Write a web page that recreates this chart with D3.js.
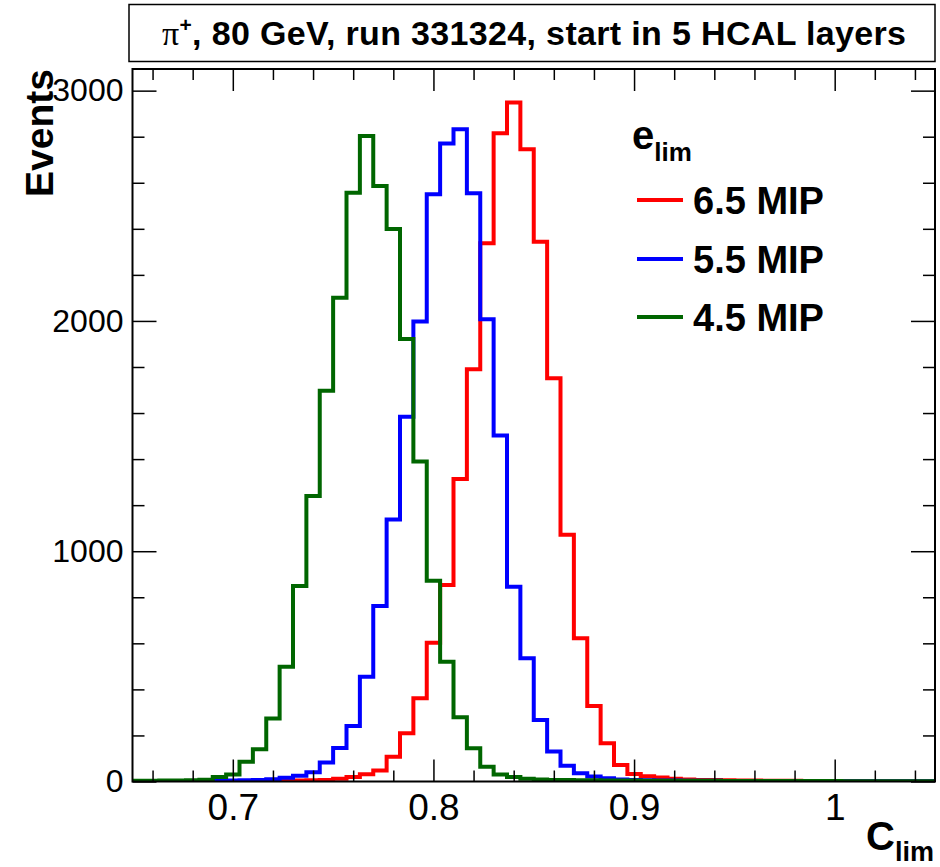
<!DOCTYPE html>
<html>
<head>
<meta charset="utf-8">
<script src="https://cdn.jsdelivr.net/npm/d3@7"></script>
<style>
  html, body { margin: 0; padding: 0; background: #fff; }
  svg { display: block; font-family: "Liberation Sans", Arial, Helvetica, sans-serif; }
</style>
</head>
<body>
<script>
// histogram binning (60 equal bins between 0.65 and 1.05)
const xMin = 0.65;
const xMax = 1.05;
const nBins = 60;

// bin contents
const counts65 = [
  0, 0, 1, 1, 1, 1, 1, 2, 2, 2,
  3, 3, 4, 5, 7, 12, 20, 32, 48, 108,
  209, 361, 603, 853, 1314, 1790, 2337, 2815, 2949, 2745,
  2344, 1751, 1071, 622, 328, 166, 72, 33, 23, 17,
  12, 9, 7, 6, 5, 4, 4, 3, 3, 3,
  2, 2, 2, 2, 2, 1, 1, 1, 1, 1,
];
const counts55 = [
  1, 1, 1, 2, 2, 2, 3, 4, 5, 7,
  10, 16, 25, 40, 83, 145, 241, 455, 762, 1138,
  1584, 1997, 2550, 2771, 2832, 2554, 2007, 1502, 846, 535,
  267, 130, 68, 36, 22, 14, 9, 7, 5, 4,
  4, 3, 3, 3, 2, 2, 2, 2, 2, 1,
  1, 1, 1, 1, 1, 1, 1, 1, 1, 1,
];
const counts45 = [
  3, 3, 4, 4, 5, 8, 20, 30, 86, 140,
  274, 498, 849, 1240, 1697, 2101, 2557, 2803, 2586, 2399,
  1921, 1390, 872, 520, 279, 144, 64, 30, 20, 12,
  9, 7, 6, 5, 5, 4, 4, 4, 3, 3,
  3, 3, 3, 3, 2, 2, 2, 2, 2, 2,
  2, 2, 2, 1, 1, 1, 1, 1, 1, 1,
];

const seriesNames = ["6.5 MIP", "5.5 MIP", "4.5 MIP"];
const seriesColors = ["#ff0000", "#0000ff", "#006600"];
const seriesCounts = [counts65, counts55, counts45];

const xMajorTicks = [0.7, 0.8, 0.9, 1.0];
const xTickLabels = ["0.7", "0.8", "0.9", "1"];
const yMajorTicks = [0, 1000, 2000, 3000];
const yMax = 3094;

const width = 940;
const height = 867;
const frameL = 132.5, frameR = 935, frameT = 69, frameB = 781.5;

const x = d3.scaleLinear().domain([xMin, xMax]).range([frameL, frameR]);
const y = d3.scaleLinear().domain([0, yMax]).range([frameB, frameT]);

const svg = d3.select("body").append("svg")
  .attr("width", width)
  .attr("height", height)
  .attr("viewBox", [0, 0, width, height]);

// minor tick positions
const xMinor = d3.range(0, 21).map((i) => +(xMin + 0.01 + i * 0.02).toFixed(3))
  .filter((v) => v < xMax && !xMajorTicks.some((m) => Math.abs(m - v) < 1e-6));
const yMinor = d3.range(200, yMax, 200).filter((v) => v % 1000 !== 0);

// title box
svg.append("rect")
  .attr("x", 129).attr("y", 4.5)
  .attr("width", 806).attr("height", 57)
  .attr("fill", "#fff").attr("stroke", "#000").attr("stroke-width", 1.5);

const title = svg.append("text")
  .attr("x", 162).attr("y", 45)
  .attr("font-size", 34).attr("font-weight", "bold")
  .attr("textLength", 744).attr("lengthAdjust", "spacing");
title.append("tspan").attr("font-family", "'Liberation Serif', serif").attr("font-weight", "normal").text("π");
title.append("tspan").attr("font-size", 21).attr("dy", -13).text("+");
title.append("tspan").attr("dy", 13).text(", 80 GeV, run 331324, start in 5 HCAL layers");

// histograms
const edges = d3.range(nBins + 1).map((i) => xMin + (i * (xMax - xMin)) / nBins);
const line = d3.line()
  .x((d) => x(d[0]))
  .y((d) => y(d[1]))
  .curve(d3.curveStepAfter);

svg.append("clipPath").attr("id", "frame")
  .append("rect").attr("x", frameL).attr("y", frameT)
  .attr("width", frameR - frameL).attr("height", frameB - frameT);

const plot = svg.append("g").attr("clip-path", "url(#frame)");

seriesCounts.forEach((counts, i) => {
  const pts = [[edges[0], 0]];
  counts.forEach((c, k) => pts.push([edges[k], c]));
  pts.push([edges[nBins], counts[nBins - 1]]);
  pts.push([edges[nBins], 0]);
  plot.append("path")
    .attr("d", line(pts))
    .attr("fill", "none")
    .attr("stroke", seriesColors[i])
    .attr("stroke-width", 4)
    .attr("stroke-linejoin", "miter");
});

// axes
const tickStyle = (g) => {
  g.select(".domain").remove();
  g.selectAll(".tick line").attr("stroke", "#000").attr("stroke-width", 1.5);
};

svg.append("g").attr("transform", `translate(0,${frameB})`)
  .call(d3.axisBottom(x).tickValues(xMinor).tickSize(-11).tickFormat(""))
  .call(tickStyle);
svg.append("g").attr("transform", `translate(0,${frameB})`)
  .call(d3.axisBottom(x).tickValues(xMajorTicks).tickSize(-22).tickPadding(12)
    .tickFormat((d, i) => xTickLabels[i]))
  .call(tickStyle)
  .call((g) => g.selectAll("text").attr("font-size", 37).attr("fill", "#000")
    .attr("font-family", "'Liberation Sans', Arial, sans-serif"));

svg.append("g").attr("transform", `translate(0,${frameT})`)
  .call(d3.axisTop(x).tickValues(xMinor).tickSize(-11).tickFormat(""))
  .call(tickStyle);
svg.append("g").attr("transform", `translate(0,${frameT})`)
  .call(d3.axisTop(x).tickValues(xMajorTicks).tickSize(-22).tickFormat(""))
  .call(tickStyle);

svg.append("g").attr("transform", `translate(${frameL},0)`)
  .call(d3.axisLeft(y).tickValues(yMinor).tickSize(-12).tickFormat(""))
  .call(tickStyle);
svg.append("g").attr("transform", `translate(${frameL},0)`)
  .call(d3.axisLeft(y).tickValues(yMajorTicks).tickSize(-24).tickPadding(9)
    .tickFormat(d3.format("d")))
  .call(tickStyle)
  .call((g) => g.selectAll("text").attr("font-size", 32).attr("fill", "#000")
    .attr("font-family", "'Liberation Sans', Arial, sans-serif"));

svg.append("g").attr("transform", `translate(${frameR},0)`)
  .call(d3.axisRight(y).tickValues(yMinor).tickSize(-12).tickFormat(""))
  .call(tickStyle);
svg.append("g").attr("transform", `translate(${frameR},0)`)
  .call(d3.axisRight(y).tickValues(yMajorTicks).tickSize(-24).tickFormat(""))
  .call(tickStyle);

// frame
svg.append("rect")
  .attr("x", frameL).attr("y", frameT)
  .attr("width", frameR - frameL).attr("height", frameB - frameT)
  .attr("fill", "none").attr("stroke", "#000").attr("stroke-width", 2);

// axis titles
svg.append("text")
  .attr("transform", `translate(53,${frameT}) rotate(-90)`)
  .attr("text-anchor", "end")
  .attr("font-size", 39).attr("font-weight", "bold")
  .text("Events");

const xt = svg.append("text")
  .attr("x", 934).attr("y", 850)
  .attr("text-anchor", "end")
  .attr("font-size", 40).attr("font-weight", "bold");
xt.append("tspan").text("C");
xt.append("tspan").attr("font-size", 27).attr("dy", 11).text("lim");

// legend
const lg = svg.append("text")
  .attr("x", 632).attr("y", 149)
  .attr("font-size", 40).attr("font-weight", "bold");
lg.append("tspan").text("e");
lg.append("tspan").attr("font-size", 26).attr("dy", 12).text("lim");

const legendY = [200, 259, 317];
seriesNames.forEach((name, i) => {
  svg.append("line")
    .attr("x1", 637).attr("x2", 683)
    .attr("y1", legendY[i]).attr("y2", legendY[i])
    .attr("stroke", seriesColors[i]).attr("stroke-width", 4);
  svg.append("text")
    .attr("x", 693).attr("y", legendY[i] + 14)
    .attr("font-size", 38).attr("font-weight", "bold")
    .text(name);
});
</script>
</body>
</html>
